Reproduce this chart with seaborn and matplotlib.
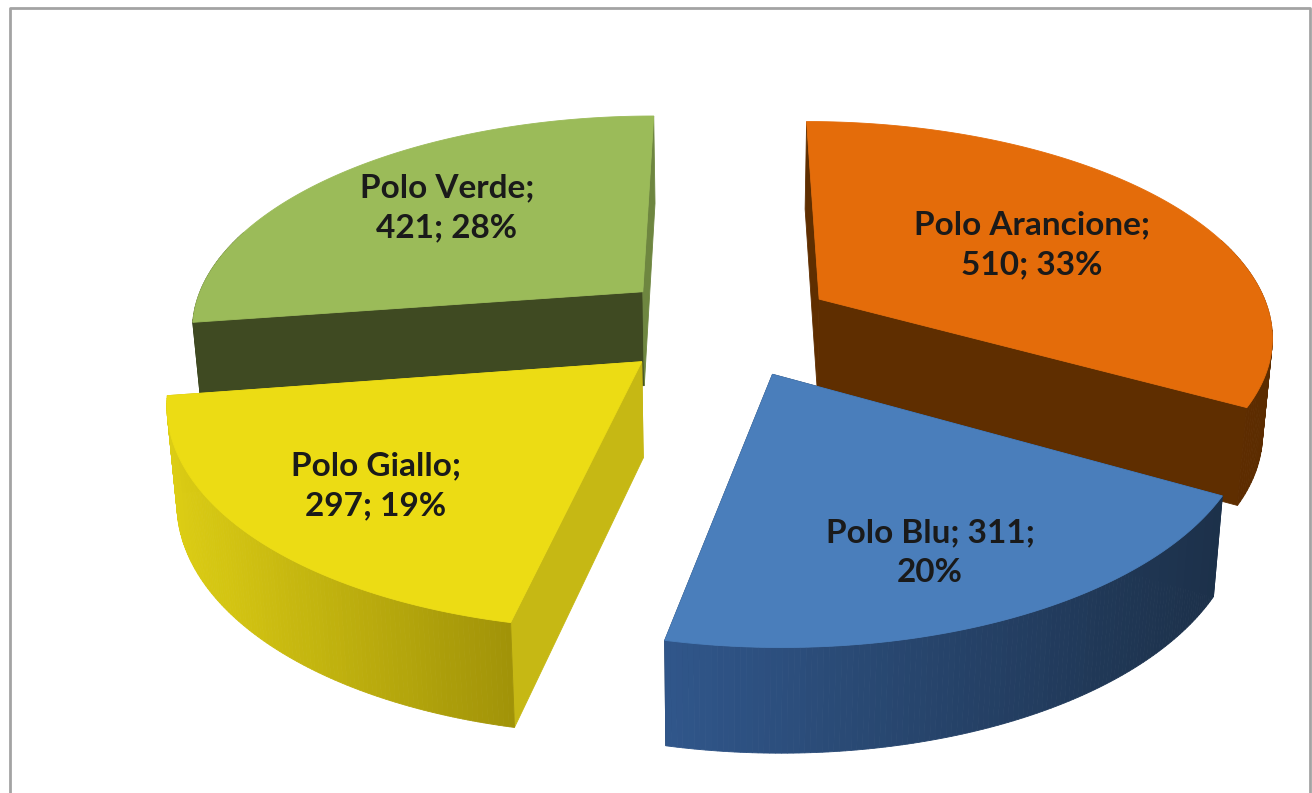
import numpy as np
import seaborn as sns
from matplotlib import pyplot as plt
from matplotlib.patches import Polygon

# chart data, clockwise from 12 o'clock
names = ['Polo Arancione', 'Polo Blu', 'Polo Giallo', 'Polo Verde']
values = [510, 311, 297, 421]
percents = [33, 20, 19, 28]
label_lines = ['Polo Arancione;\n510; 33%', 'Polo Blu; 311;\n20%',
               'Polo Giallo;\n297; 19%', 'Polo Verde;\n421; 28%']

top_colors = ['#e46c0a', '#4a7ebb', '#ecdc14', '#9bbb59']
side_left = ['#6a3300', '#30568a', '#dccd14', '#3f4a22']
side_right = ['#5c2c00', '#1c3049', '#a09208', '#3f4a22']
# cut faces: the one at the start angle, the one at the end angle
cut_start = ['#5f2e00', '#1f3552', '#c6b814', '#3f4a22']
cut_end = ['#5f2e00', '#1f3552', '#c6b814', '#6e8640']
draw_order = [3, 0, 2, 1]

# projection of the pie, in pixels of the picture
cx, cy = 725, 325
rx, ry = 454, 213
persp = 0.157
explode = 0.245
depth = 95
taper = 0.018


def project(x, y, z=0.0):
    s = 1 / (1 + persp * y)
    return cx + x * rx * s * (1 - taper * z), cy - y * ry * s + z * depth * np.sqrt(s)


sns.set_theme(style='white')
plt.rcParams['font.family'] = ['Lato', 'DejaVu Sans']

fig = plt.figure(figsize=(13.12, 7.93), dpi=100)
ax = fig.add_axes([0, 0, 1, 1])
ax.set_xlim(0, 1312)
ax.set_ylim(793, 0)
ax.axis('off')

# chart frame
ax.plot([10, 10, 1310, 1310], [793, 8, 8, 793], color='#a3a3a3', lw=2)

fracs = np.array(values) / np.sum(values)
edges = np.concatenate([[0], np.cumsum(fracs)]) * 2 * np.pi

for i in draw_order:
    a0, a1 = edges[i], edges[i + 1]
    mid = (a0 + a1) / 2
    ox, oy = explode * np.sin(mid), explode * np.cos(mid)
    angles = np.linspace(a0, a1, 121)
    xs = ox + np.sin(angles)
    ys = oy + np.cos(angles)

    # the two cut faces
    for a, col in ((a0, cut_start[i]), (a1, cut_end[i])):
        ex, ey = ox + np.sin(a), oy + np.cos(a)
        quad = [project(ox, oy), project(ex, ey), project(ex, ey, 1), project(ox, oy, 1)]
        ax.add_patch(Polygon(quad, closed=True, fc=col, ec=col, lw=0.6))

    # outer wall, shaded left to right in small strips, back part is hidden
    shades = sns.blend_palette([side_left[i], side_right[i]], 64)
    screen_x = project(xs, ys)[0]
    xmin, xmax = screen_x.min(), screen_x.max()
    for k in range(len(angles) - 1):
        if np.cos(angles[k]) > 0.3:
            continue
        quad = [project(xs[k], ys[k]), project(xs[k + 1], ys[k + 1]),
                project(xs[k + 1], ys[k + 1], 1), project(xs[k], ys[k], 1)]
        pos = ((screen_x[k] + screen_x[k + 1]) / 2 - xmin) / (xmax - xmin)
        shade = shades[int(pos * 63)]
        ax.add_patch(Polygon(quad, closed=True, fc=shade, ec=shade, lw=0.6))

    # top face
    tx, ty = project(np.append(xs, ox), np.append(ys, oy))
    ax.add_patch(Polygon(np.column_stack([tx, ty]), closed=True,
                         fc=top_colors[i], ec=top_colors[i], lw=0.6))

# data labels
label_pos = [(1032, 245), (930, 553), (376, 486), (447, 208)]
for text, (lx, ly) in zip(label_lines, label_pos):
    ax.text(lx, ly, text, ha='center', va='center', fontsize=24, fontweight='bold',
            color='#1a1a1a', linespacing=1.45)

fig.savefig('out.png', dpi=100, facecolor='white')
